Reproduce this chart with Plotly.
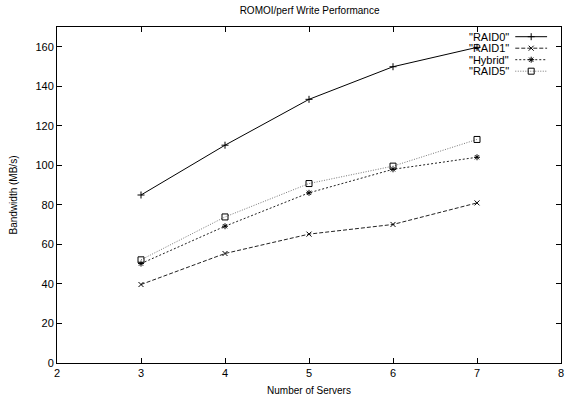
import plotly.graph_objects as go

servers = [3, 4, 5, 6, 7]
raid0 = [85, 110.2, 133.4, 149.9, 159.7]
raid1 = [39.7, 55.4, 65.2, 70.1, 81.0]
hybrid = [50.3, 69.2, 86.1, 98.0, 104.1]
raid5 = [52.2, 73.9, 90.8, 99.6, 113.1]
names = ['"RAID0"', '"RAID1"', '"Hybrid"', '"RAID5"']

styles = [
    dict(color="#000000", dash="solid", symbol="cross-thin-open", size=5),
    dict(color="#222222", dash="4px,2px", symbol="x-thin-open", size=5),
    dict(color="#222222", dash="2px,2px", symbol="asterisk-open", size=5),
    dict(color="#777777", dash="1px,1.5px", symbol="square-open", size=6),
]
series = [raid0, raid1, hybrid, raid5]

fig = go.Figure()
for name, ys, st in zip(names, series, styles):
    fig.add_trace(go.Scatter(
        x=servers, y=ys, mode="lines+markers", name=name, showlegend=False,
        line=dict(color=st["color"], dash=st["dash"], width=1),
        marker=dict(symbol=st["symbol"], size=st["size"], color="#000000",
                    line=dict(color="#000000", width=1)),
    ))

# custom gnuplot-style legend (text right, sample at right) in pixel-like overlay coords
leg_rows = [36.7, 48.2, 59.7, 71.2]
for name, st, yr in zip(names, styles, leg_rows):
    fig.add_trace(go.Scatter(
        x=[518, 534, 550], y=[yr, yr, yr], mode="lines", xaxis="x2", yaxis="y2",
        showlegend=False, hoverinfo="skip",
        line=dict(color=st["color"], dash=st["dash"], width=1),
    ))
    fig.add_trace(go.Scatter(
        x=[534], y=[yr], mode="markers", xaxis="x2", yaxis="y2",
        showlegend=False, hoverinfo="skip",
        marker=dict(symbol=st["symbol"], size=st["size"], color="#000000",
                    line=dict(color="#000000", width=1)),
    ))
    fig.add_annotation(x=514, y=yr, xref="x2", yref="y2", text=name,
                       showarrow=False, xanchor="right", yanchor="middle",
                       font=dict(size=11, color="#000000"))

font = "Liberation Sans, Arial, Helvetica, sans-serif"
axis_common = dict(
    showline=True, linecolor="#000000", linewidth=1, mirror="allticks",
    ticks="inside", ticklen=5, tickcolor="#000000", tickwidth=1,
    showgrid=False, zeroline=False, tickfont=dict(size=11, color="#000000"),
)
fig.update_layout(
    width=568, height=401,
    margin=dict(l=57, r=4, t=27, b=38),
    paper_bgcolor="white", plot_bgcolor="white",
    font=dict(family=font, size=10, color="#000000"),
    title=dict(text="ROMOI/perf Write Performance", x=0.545, xanchor="center",
               y=0.975, yanchor="middle", font=dict(size=10)),
    xaxis=dict(range=[2, 8], dtick=1, tick0=2,
               title=dict(text="Number of Servers", font=dict(size=10), standoff=8),
               **axis_common),
    yaxis=dict(range=[0, 170], dtick=20, tick0=0,
               title=dict(text="Bandwidth (MB/s)", font=dict(size=10), standoff=15),
               **axis_common),
    xaxis2=dict(range=[57, 564], overlaying="x", anchor="y2", visible=False),
    yaxis2=dict(range=[363, 27], overlaying="y", anchor="x2", visible=False),
    showlegend=False,
)
fig.write_html("out.html")
